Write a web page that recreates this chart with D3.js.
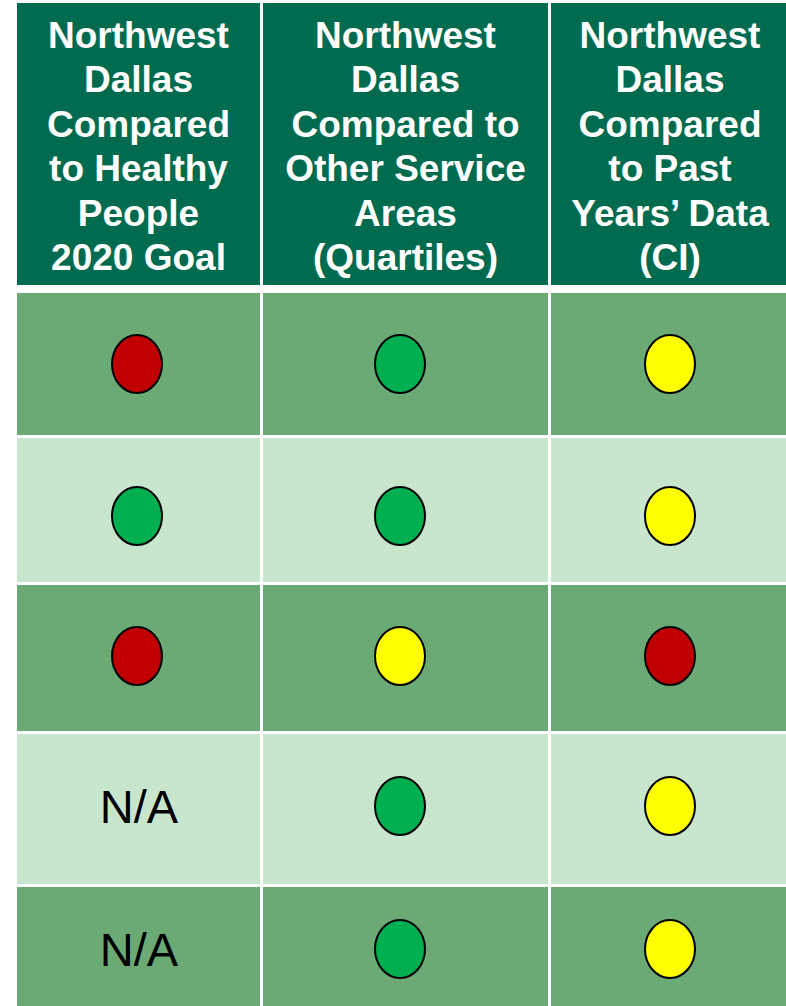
<!DOCTYPE html>
<html>
<head>
<meta charset="utf-8">
<script src="https://cdn.jsdelivr.net/npm/d3@7"></script>
<style>
  html, body { margin: 0; padding: 0; background: #ffffff; }
  svg { display: block; }
</style>
</head>
<body>
<svg id="chart" width="786" height="1006"></svg>
<script>
// ---- Data ----
const columnKeys = ["hp2020", "quartiles", "pastYears"];
const headerLines = [
  ["Northwest", "Dallas", "Compared", "to Healthy", "People", "2020 Goal"],
  ["Northwest", "Dallas", "Compared to", "Other Service", "Areas", "(Quartiles)"],
  ["Northwest", "Dallas", "Compared", "to Past", "Years\u2019 Data", "(CI)"]
];
const rowIds = ["r1", "r2", "r3", "r4", "r5"];
const hp2020Status = ["red", "green", "red", "N/A", "N/A"];
const quartileStatus = ["green", "green", "yellow", "green", "green"];
const pastYearsStatus = ["yellow", "yellow", "red", "yellow", "yellow"];
const statusColors = { red: "#C00000", green: "#00B050", yellow: "#FFFF00" };

// ---- Layout ----
const colStarts = [17, 263, 551];
const colEnds = [260, 548, 789];
const headerTop = 3, headerBottom = 285;
const rowTops = [293, 438, 585, 734, 887];
const rowBottoms = [435, 582, 731, 884, 1020];
const dotX = [137, 400, 670];
const dotY = [364, 516, 656, 806, 949];
const rowFill = ["#6BAA75", "#C8E6CE", "#6BAA75", "#C8E6CE", "#6BAA75"];

const svg = d3.select("#chart");

const xStart = d3.scaleOrdinal().domain(columnKeys).range(colStarts);
const xEnd = d3.scaleOrdinal().domain(columnKeys).range(colEnds);
const xDot = d3.scaleOrdinal().domain(columnKeys).range(dotX);
const yTop = d3.scaleOrdinal().domain(rowIds).range(rowTops);
const yBottom = d3.scaleOrdinal().domain(rowIds).range(rowBottoms);
const yDot = d3.scaleOrdinal().domain(rowIds).range(dotY);
const fillScale = d3.scaleOrdinal().domain(rowIds).range(rowFill);
const lineY = d3.scaleLinear().domain([0, 1]).range([47.7, 92.2]);

// Header
const header = svg.append("g").attr("class", "header");
header.selectAll("rect")
  .data(columnKeys)
  .join("rect")
  .attr("x", d => xStart(d))
  .attr("y", headerTop)
  .attr("width", d => xEnd(d) - xStart(d))
  .attr("height", headerBottom - headerTop)
  .attr("fill", "#006B4F");

header.selectAll("text")
  .data(columnKeys)
  .join("text")
  .attr("x", d => (xStart(d) + xEnd(d)) / 2)
  .attr("text-anchor", "middle")
  .attr("fill", "#ffffff")
  .attr("font-family", "Liberation Sans, Arial, sans-serif")
  .attr("font-weight", "bold")
  .attr("font-size", 37)
  .each(function(d, i) {
    const t = d3.select(this);
    const cx = (xStart(d) + xEnd(d)) / 2;
    headerLines[i].forEach((line, j) => {
      t.append("tspan").attr("x", cx).attr("y", lineY(j)).text(line);
    });
  });

// Body cells
const statusByCol = { hp2020: hp2020Status, quartiles: quartileStatus, pastYears: pastYearsStatus };
const cells = [];
rowIds.forEach((r, ri) => {
  columnKeys.forEach(c => {
    cells.push({ row: r, col: c, status: statusByCol[c][ri] });
  });
});

const body = svg.append("g").attr("class", "body");
body.selectAll("rect")
  .data(cells)
  .join("rect")
  .attr("x", d => xStart(d.col))
  .attr("y", d => yTop(d.row))
  .attr("width", d => xEnd(d.col) - xStart(d.col))
  .attr("height", d => yBottom(d.row) - yTop(d.row))
  .attr("fill", d => fillScale(d.row));

body.selectAll("ellipse")
  .data(cells.filter(d => d.status !== "N/A"))
  .join("ellipse")
  .attr("cx", d => xDot(d.col))
  .attr("cy", d => yDot(d.row))
  .attr("rx", 25)
  .attr("ry", 29)
  .attr("fill", d => statusColors[d.status])
  .attr("stroke", "#000000")
  .attr("stroke-width", 2);

body.selectAll("text")
  .data(cells.filter(d => d.status === "N/A"))
  .join("text")
  .attr("x", d => xDot(d.col) + 2)
  .attr("y", d => yDot(d.row) + 17)
  .attr("text-anchor", "middle")
  .attr("fill", "#000000")
  .attr("font-family", "Liberation Sans, Arial, sans-serif")
  .attr("font-size", 47)
  .text(d => d.status);
</script>
</body>
</html>
